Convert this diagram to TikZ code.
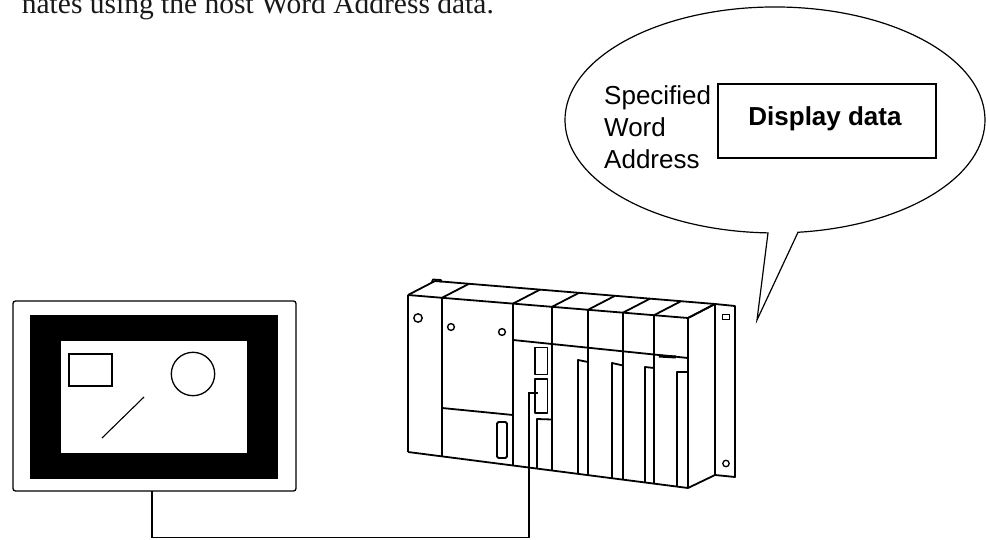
\documentclass[tikz,border=0pt]{standalone}
\usepackage{fontspec}
\setmainfont{Liberation Serif}
\newfontfamily\labelfont{Liberation Sans}
\usetikzlibrary{calc}

\begin{document}
\begin{tikzpicture}[x=1pt,y=-1pt,
  plcline/.style={line width=1.8pt, line join=round},
  hmiline/.style={line width=1.3pt},
  bubbleline/.style={line width=1.2pt, line join=miter},
  cableline/.style={line width=1.4pt},
  sidetext/.style={anchor=base west, inner sep=0pt, font=\labelfont\fontsize{26}{32}\selectfont},
]
\fill[white] (0,0) rectangle (986,540);
\useasboundingbox (0,0) rectangle (986,540);

% heading line of the page text
\node[anchor=base west, inner sep=0pt, font=\fontsize{29.5}{35}\selectfont, text=black!90]
  (caption) at (21.7,13.3) {nates using the host Word Address data.};

% ---------------- speech bubble ----------------
\draw[bubbleline] (768,232.9)
  arc[start angle=91.91, end angle=443.71, x radius=210, y radius=113]
  -- (757,320) -- cycle;

\node[sidetext] (spec1) at (604,104.3) {Specified};
\node[sidetext] (spec2) at (604,136.5) {Word};
\node[sidetext] (spec3) at (604,168.3) {Address};

\node[draw, line width=2.4pt, minimum width=218, minimum height=74, inner sep=0pt]
  (dispbox) at (827,121) {};
\node[anchor=base, inner sep=0pt, font=\labelfont\bfseries\fontsize{26}{32}\selectfont]
  (disptext) at (825,126) {Display data};

% ---------------- operator panel ----------------
\draw[hmiline, rounded corners=2.5] (13,301) rectangle (296,491);
\fill[black] (30,315) rectangle (278,479);
\fill[white] (61,341) rectangle (247,453);
\draw[line width=1.5pt] (69,354) rectangle (112,386);
\draw[hmiline] (193,374) circle[radius=21.7];
\draw[line width=1.1pt] (102,438) -- (144,397);
\coordinate (hmiport) at (152,491);

% ---------------- PLC rack ----------------
% front face outline and module dividers
\draw[plcline] (408,295) -- (688,318);
\draw[plcline] (408,452) -- (688,488);
\foreach \x in {408,442,513,552,588,623,654,688} {
  \draw[plcline] (\x,{295+(\x-408)*0.08214}) -- (\x,{452+(\x-408)*0.12857});
  \draw[plcline] (\x,{295+(\x-408)*0.08214}) -- (\x+27,{281+(\x-408)*0.08214});
}
% top back edge
\draw[plcline] (435,281) -- (715,304);
\draw[plcline] (432,282) -- (433,279.5) -- (441,280) -- (441,282.5);
% right side face
\draw[plcline] (688,318) -- (715,304) -- (715,475) -- (688,488);
% end plate
\draw[plcline] (715,304) -- (735,306) -- (735,477) -- (715,475);
\draw[line width=1.3pt] (722.8,314.2) rectangle (729.8,319.3);
\draw[line width=1.3pt] (726,463.5) circle[radius=3.2];

% power module
\draw[line width=1.4pt] (418,318) circle[radius=4.2];
% CPU module
\draw[line width=1.4pt] (451,327) circle[radius=3.4];
\draw[line width=1.4pt] (502,332) circle[radius=3.4];
\draw[plcline] (442,408) -- (513,415);
\draw[plcline, rounded corners=1.5] (497,422) rectangle (507,458);
% band across the I/O modules
\draw[plcline] (513,340) -- (688,358);
% link module connectors and slot
\draw[plcline] (535,347.5) rectangle (547.5,374.5);
\draw[plcline] (535,379) rectangle (547.5,413);
\draw[plcline] (537,468.6) -- (537,419) -- (552,419.5);
\coordinate (plcport) at (538,393);
% I/O module slots
\draw[plcline] (578,473.9) -- (578,360) -- (588,362);
\draw[plcline] (612,478.2) -- (612,363) -- (623,365.5);
\draw[plcline] (645,482.5) -- (645,367) -- (654,368);
\draw[plcline] (677,486.6) -- (677,372) -- (688,372);
\draw[line width=3pt] (659,356) -- (676,357);

% ---------------- cable ----------------
\coordinate (cablecorner) at (529,537.5);
\draw[cableline] (hmiport) |- (cablecorner) |- (plcport);

\end{tikzpicture}
\end{document}
